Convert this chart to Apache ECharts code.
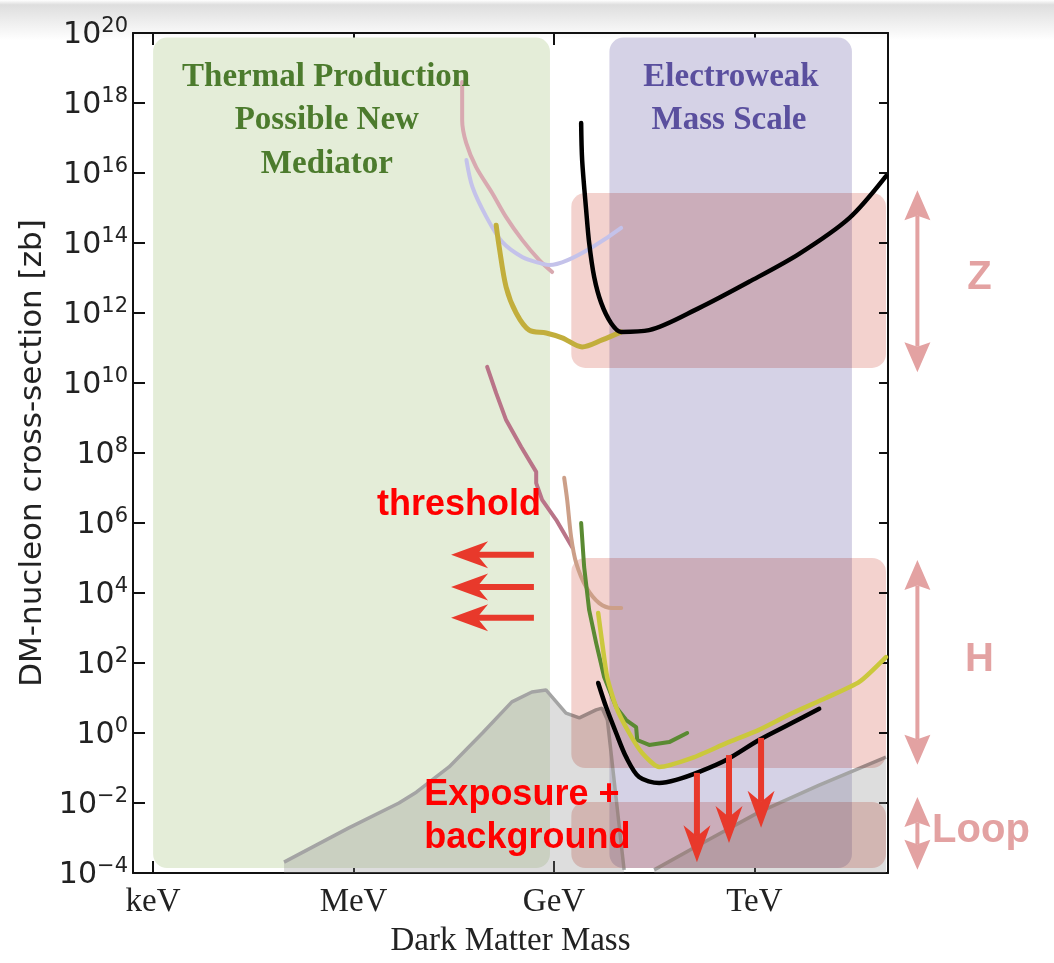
<!DOCTYPE html>
<html><head><meta charset="utf-8">
<script src="https://cdn.jsdelivr.net/npm/echarts@6/dist/echarts.min.js"></script>
<style>html,body{margin:0;padding:0;background:#fff}#c{width:1054px;height:963px}</style>
</head><body><div id="c"></div><script>
// ---------- DATA (x = log10(mass / GeV), y = log10(cross-section / zb)) ----------
const xTickValues = [-6, -3, 0, 3];
const xTickLabels = ['keV', 'MeV', 'GeV', 'TeV'];
const xRange = [Math.log10(5e-7), 5];
const yRange = [-4, 20];

// region boxes [x1, x2, y1, y2]
const regionThermal = [-6.0, -0.06, -3.86, 19.87];
const regionElectroweak = [0.83, 4.46, -3.86, 19.87];
const bandZ = [0.26, 4.97, 10.43, 15.43];
const bandH = [0.26, 4.97, -1.0, 5.0];
const bandLoop = [0.26, 4.97, -3.86, -1.97];

// grey floor
const floorLeft = [[-4.04,-3.69],[-3.07,-2.71],[-2.32,-2.0],[-2.06,-1.69],[-1.57,-0.97],[-1.07,0.0],[-0.63,0.89],[-0.33,1.17],[-0.12,1.23],[0.18,0.57],[0.38,0.43],[0.63,0.66],[0.72,0.71],[0.80,0.37],[1.05,-3.91]];
const floorRight = [[1.50,-3.91],[2.17,-3.2],[3.07,-2.26],[3.97,-1.49],[4.97,-0.69]];

// limit curves
const curvePinkTop = [[-1.374,18.6],[-1.374,17.51],[-1.314,16.86],[-1.165,16.17],[-0.925,15.43],[-0.716,14.74],[-0.476,14.09],[-0.22,13.51],[-0.027,13.17]];
const curveLavender = [[-1.31,16.37],[-1.22,15.6],[-1.01,14.74],[-0.775,14.03],[-0.476,13.6],[-0.22,13.43],[-0.07,13.37],[1.006,14.43]];
const curveOliveTop = [[-0.865,14.51],[-0.82,13.89],[-0.716,12.74],[-0.566,12.0],[-0.371,11.51],[-0.117,11.43],[0.123,11.29],[0.422,11.03],[0.722,11.23],[1.006,11.46]];
const curveBlackTop = [[0.407,17.43],[0.422,16.37],[0.482,14.94],[0.527,14.0],[0.602,13.03],[0.707,12.29],[0.856,11.71],[1.006,11.46],[1.425,11.51],[2.17,12.14],[2.92,12.89],[3.67,13.69],[4.42,14.71],[4.97,15.91]];
const curveMauve = [[-1.0,10.46],[-0.865,9.71],[-0.716,8.94],[-0.49,8.17],[-0.266,7.46],[-0.266,7.14],[-0.177,6.66],[0.033,6.09],[0.273,5.31]];
const curveTan = [[0.153,7.29],[0.198,6.66],[0.257,5.6],[0.332,4.86],[0.482,4.17],[0.677,3.71],[0.871,3.57],[1.006,3.57]];
const curveGreen = [[0.407,6.0],[0.452,4.74],[0.527,3.51],[0.632,2.57],[0.751,1.6],[0.931,0.74],[1.081,0.37],[1.23,0.17],[1.246,-0.2],[1.425,-0.34],[1.725,-0.26],[1.994,0.0]];
const curveLime = [[0.662,3.43],[0.722,2.57],[0.796,1.6],[0.931,0.74],[1.126,0.0],[1.32,-0.57],[1.575,-0.97],[2.07,-0.71],[2.58,-0.29],[3.07,0.09],[3.57,0.57],[4.07,1.0],[4.57,1.46],[4.97,2.17]];
const curveBlackLow = [[0.662,1.43],[0.781,0.74],[0.931,0.0],[1.081,-0.69],[1.275,-1.26],[1.575,-1.43],[1.829,-1.34],[2.174,-1.11],[2.578,-0.77],[3.07,-0.2],[3.566,0.29],[3.97,0.69]];

// arrows [xTail, yTail, xTip, yTip]
const arrowsThreshold = [[-0.30,5.09,-1.54,5.09],[-0.30,4.17,-1.54,4.17],[-0.30,3.29,-1.54,3.29]];
const arrowsExposure = [[2.14,-1.14,2.14,-3.69],[2.62,-0.63,2.62,-3.14],[3.10,-0.14,3.10,-2.71]];
const arrowsScale = [[5.44,10.31,5.44,15.51],[5.44,-0.91,5.44,4.94],[5.44,-3.91,5.44,-1.83]];

// ---------- ANNOTATION TEXT ----------
const noteTexts = ['Thermal Production','Possible New','Mediator','Electroweak','Mass Scale','threshold','Exposure +','background','Z','H','Loop'];
const notePos = [[-3.41,18.74],[-3.40,17.49],[-3.40,16.23],[2.65,18.74],[2.62,17.49],[-1.42,6.51],[-1.94,-1.77],[-1.94,-3.0],[6.37,13.0],[6.37,2.09],[5.66,-2.8]];
const serifB = 'bold 33px "Liberation Serif"';
const sansB = 'bold 36px "Liberation Sans"';
const noteStyle = [
  {c:'#4c7b2d', f:serifB, a:'center'},{c:'#4c7b2d', f:serifB, a:'center'},{c:'#4c7b2d', f:serifB, a:'center'},
  {c:'#5a4f9e', f:serifB, a:'center'},{c:'#5a4f9e', f:serifB, a:'center'},
  {c:'#ff0000', f:sansB, a:'center'},{c:'#ff0000', f:sansB, a:'left'},{c:'#ff0000', f:sansB, a:'left'},
  {c:'#e3a2a2', f:'bold 40px "Liberation Sans"', a:'center'},{c:'#e3a2a2', f:'bold 40px "Liberation Sans"', a:'center'},{c:'#e3a2a2', f:'bold 40px "Liberation Sans"', a:'left'}
];

// ---------- RENDER ----------
function rectSeries(boxes, colors, z, name, blend) {
  const s = {
    type: 'custom', name: name, z: z, clip: true, silent: true,
    data: boxes.map(b => b.slice()),
    renderItem: (params, api) => {
      const p1 = api.coord([api.value(0), api.value(3)]);
      const p2 = api.coord([api.value(1), api.value(2)]);
      return {type: 'rect', shape: {x: p1[0], y: p1[1], width: p2[0]-p1[0], height: p2[1]-p1[1], r: 14},
              style: {fill: colors[params.dataIndex]}};
    }
  };
  if (blend) s.blendMode = blend;
  return s;
}
function headPts(tip, d, n, hl, hw, notch) {
  return [tip,
    [tip[0]-d[0]*hl+n[0]*hw/2, tip[1]-d[1]*hl+n[1]*hw/2],
    [tip[0]-d[0]*hl*notch, tip[1]-d[1]*hl*notch],
    [tip[0]-d[0]*hl-n[0]*hw/2, tip[1]-d[1]*hl-n[1]*hw/2]];
}
function arrowSeries(list, opt, z) {
  return {
    type: 'custom', z: z, clip: false, silent: true,
    data: list.map(a => a.slice()),
    renderItem: (params, api) => {
      const p0 = api.coord([api.value(0), api.value(1)]);
      const p1 = api.coord([api.value(2), api.value(3)]);
      const dx = p1[0]-p0[0], dy = p1[1]-p0[1], len = Math.hypot(dx, dy);
      const d = [dx/len, dy/len], n = [-d[1], d[0]];
      const children = [];
      let s0 = p0, s1 = [p1[0]-d[0]*opt.hl*opt.notch, p1[1]-d[1]*opt.hl*opt.notch];
      children.push({type:'polygon', shape:{points: headPts(p1, d, n, opt.hl, opt.hw, opt.notch)}, style:{fill: opt.color}});
      if (opt.both) {
        const bd = [-d[0], -d[1]], bn = [-n[0], -n[1]];
        children.push({type:'polygon', shape:{points: headPts(p0, bd, bn, opt.hl, opt.hw, opt.notch)}, style:{fill: opt.color}});
        s0 = [p0[0]+d[0]*opt.hl*opt.notch, p0[1]+d[1]*opt.hl*opt.notch];
      }
      if ((s1[0]-s0[0])*d[0] + (s1[1]-s0[1])*d[1] > 0) {
        children.unshift({type:'line', shape:{x1:s0[0], y1:s0[1], x2:s1[0], y2:s1[1]}, style:{stroke: opt.color, lineWidth: opt.sw}});
      }
      return {type:'group', children: children};
    }
  };
}
function curve(data, color, width, smooth) {
  return {type:'line', data: data, xAxisIndex: 0, yAxisIndex: 0, symbol:'none', smooth: smooth, z: 4, silent: true,
          lineStyle:{color: color, width: width, cap:'round', join:'round'}};
}
function floor(data) {
  return {type:'line', data: data, symbol:'none', z: 2, silent: true,
          lineStyle:{color:'#a4a4a4', width: 3.5},
          areaStyle:{color:'rgba(140,140,140,0.42)', origin:'start'}};
}

const supTxt = v => (v < 0 ? '\u2212' + (-v) : String(v));
const axisColor = '#111';
const chart = echarts.init(document.getElementById('c'));
chart.setOption({
  animation: false,
  backgroundColor: '#fff',
  graphic: [{type:'rect', left:0, top:0, z:-10, shape:{width:1054, height:40},
    style:{fill: new echarts.graphic.LinearGradient(0,0,0,1,[{offset:0,color:'#ffffff'},{offset:0.12,color:'#dedede'},{offset:1,color:'#ffffff'}])}}],
  grid: {left: 133, right: 166, top: 33, bottom: 90, containLabel: false},
  xAxis: [{
    type:'value', min: xRange[0], max: xRange[1], position:'bottom',
    axisLine:{show:true, onZero:false, lineStyle:{color: axisColor, width:2}},
    axisTick:{show:true, inside:true, length:12, customValues: xTickValues, lineStyle:{color: axisColor, width:2}},
    axisLabel:{show:true, customValues: xTickValues, margin: 13, color:'#222', fontFamily:'Liberation Serif', fontSize: 33,
      formatter: v => xTickLabels[xTickValues.indexOf(Math.round(v))] || ''},
    splitLine:{show:false},
    name:'Dark Matter Mass', nameLocation:'middle', nameGap: 52,
    nameTextStyle:{color:'#222', fontFamily:'Liberation Serif', fontSize: 33}
  },{
    type:'value', min: xRange[0], max: xRange[1], position:'top',
    axisLine:{show:true, onZero:false, lineStyle:{color: axisColor, width:2}},
    axisTick:{show:true, inside:true, length:12, customValues: xTickValues, lineStyle:{color: axisColor, width:2}},
    axisLabel:{show:false}, splitLine:{show:false}
  }],
  yAxis: [{
    type:'value', min: yRange[0], max: yRange[1], interval: 2, position:'left',
    axisLine:{show:true, onZero:false, lineStyle:{color: axisColor, width:2}},
    axisTick:{show:true, inside:true, length:12, lineStyle:{color: axisColor, width:2}},
    axisLabel:{show:true, margin: 5, formatter: v => '{b|10}{s|' + supTxt(v) + '}',
      rich:{b:{fontFamily:'DejaVu Sans', fontSize:30, color:'#222', lineHeight:34, verticalAlign:'bottom'},
            s:{fontFamily:'DejaVu Sans', fontSize:21, color:'#222', lineHeight:20, verticalAlign:'top'}}},
    splitLine:{show:false},
    name:'DM-nucleon cross-section [zb]', nameLocation:'middle', nameGap: 85, nameRotate: 90,
    nameTextStyle:{color:'#222', fontFamily:'DejaVu Sans', fontSize: 31}
  },{
    type:'value', min: yRange[0], max: yRange[1], interval: 2, position:'right',
    axisLine:{show:true, onZero:false, lineStyle:{color: axisColor, width:2}},
    axisTick:{show:true, inside:true, length:9, lineStyle:{color: axisColor, width:2}},
    axisLabel:{show:false}, splitLine:{show:false}
  }],
  series: [
    rectSeries([regionThermal, regionElectroweak], ['#e4edd8', '#d5d2e6'], 1, 'regions'),
    floor(floorLeft),
    floor(floorRight),
    rectSeries([bandZ, bandH, bandLoop], ['#f3d2ce','#f3d2ce','#f3d2ce'], 3, 'bands', 'multiply'),
    curve(curvePinkTop, '#d8a9b0', 4, 0.3),
    curve(curveLavender, '#c4c2ea', 4, 0.3),
    curve(curveOliveTop, '#c2ae3c', 5, 0.3),
    curve(curveBlackTop, '#000000', 4.5, 0.3),
    curve(curveMauve, '#b97488', 4, false),
    curve(curveTan, '#cc9f88', 4, 0.3),
    curve(curveGreen, '#5a8a32', 4, false),
    curve(curveLime, '#cbc83c', 4.5, 0.2),
    curve(curveBlackLow, '#000000', 4.5, 0.3),
    arrowSeries(arrowsThreshold, {color:'#e8392b', hl:37, hw:27, sw:6, notch:0.7}, 6),
    arrowSeries(arrowsExposure, {color:'#e8392b', hl:37, hw:27, sw:6, notch:0.7}, 6),
    arrowSeries(arrowsScale, {color:'#e3a2a2', hl:30, hw:26, sw:4, notch:0.85, both:true}, 6),
    {
      type:'custom', z: 7, clip: false, silent: true,
      data: notePos.map(p => p.slice()),
      renderItem: (params, api) => {
        const i = params.dataIndex, st = noteStyle[i];
        const p = api.coord([api.value(0), api.value(1)]);
        return {type:'text', x: p[0], y: p[1],
                style:{text: noteTexts[i], fill: st.c, font: st.f, align: st.a, verticalAlign:'middle'}};
      }
    }
  ]
});
</script></body></html>
